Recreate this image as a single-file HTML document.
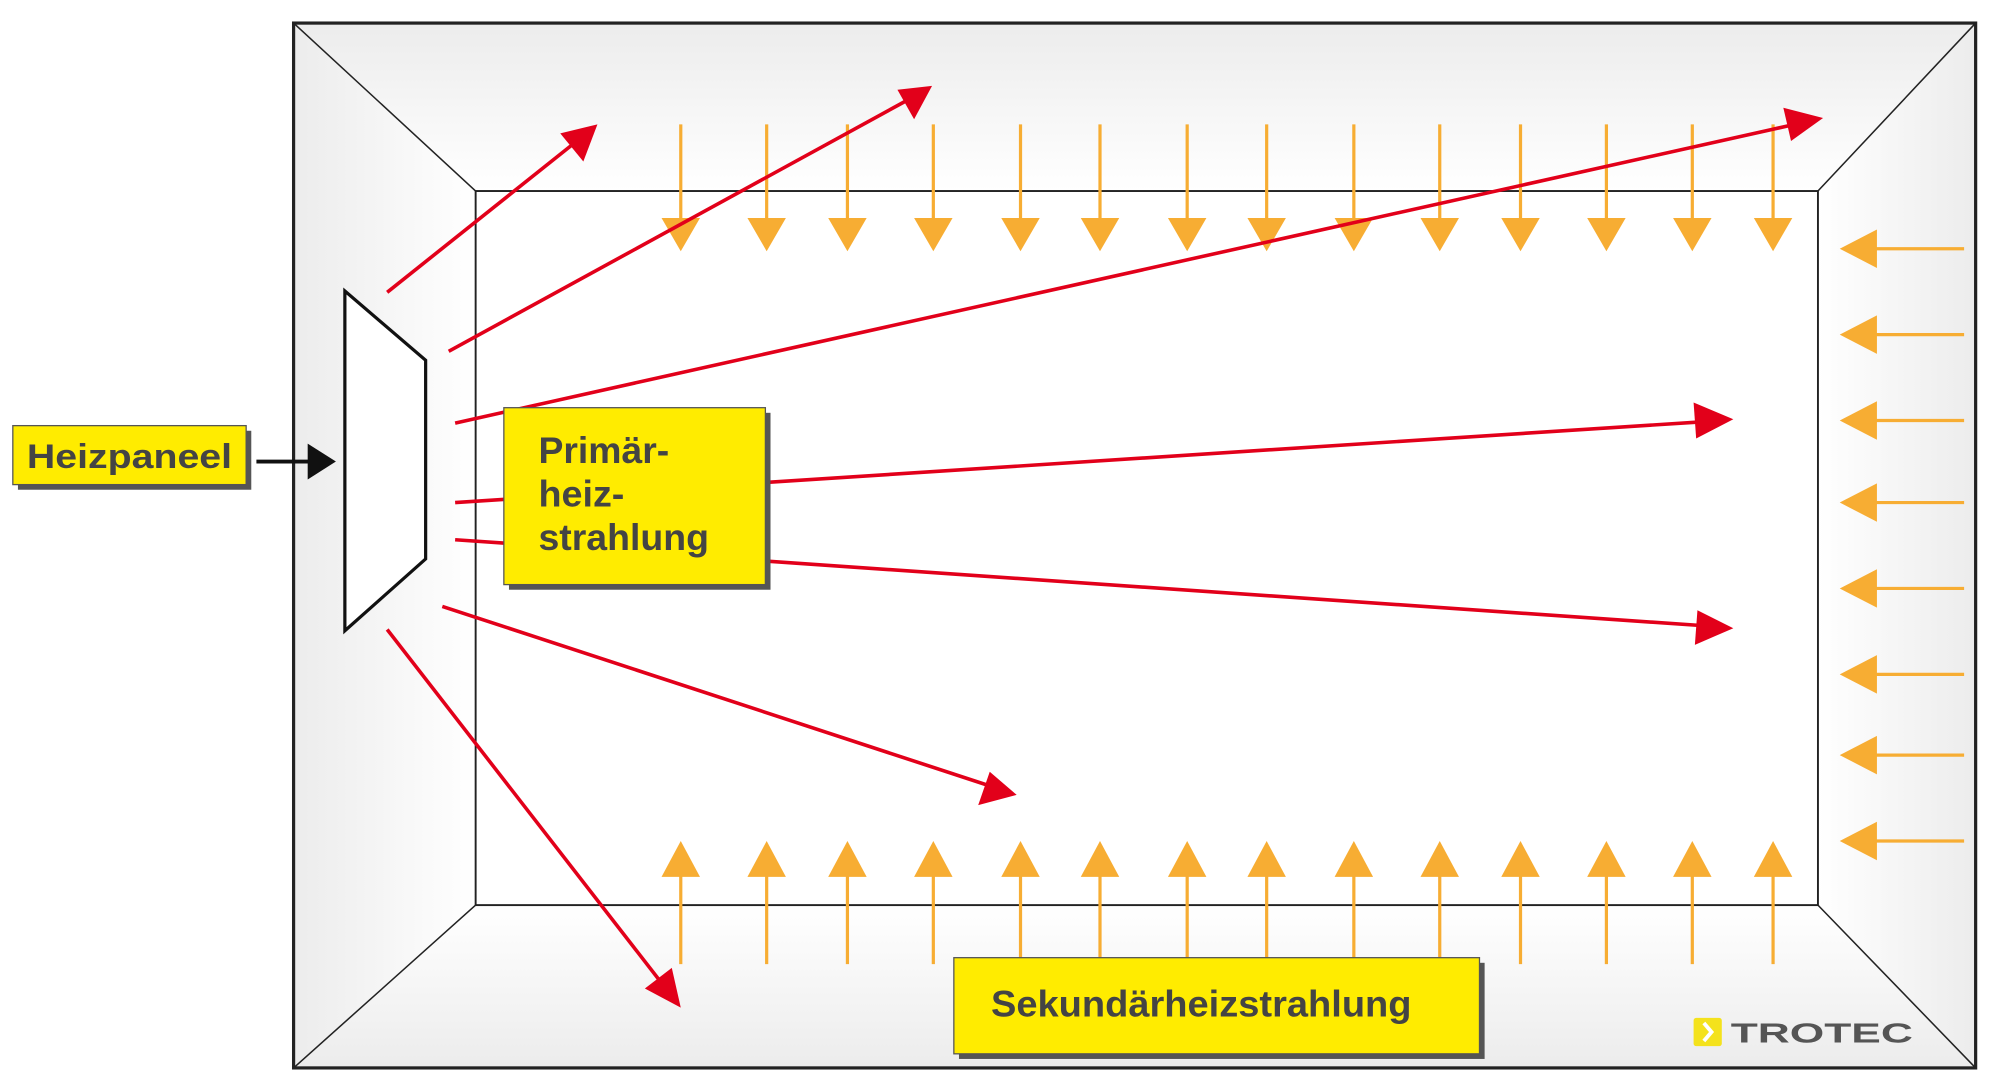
<!DOCTYPE html>
<html><head><meta charset="utf-8"><style>
html,body{margin:0;padding:0;background:#fff;}
svg{display:block;}
text{font-family:"Liberation Sans Narrow","Liberation Sans",sans-serif;font-weight:bold;fill:#444;}
</style></head><body>
<svg width="2000" height="1091" viewBox="0 0 1560 851" preserveAspectRatio="none" xmlns="http://www.w3.org/2000/svg">
<defs>
<linearGradient id="gt" x1="0" y1="0" x2="0" y2="1"><stop offset="0" stop-color="#ececec"/><stop offset="1" stop-color="#fff"/></linearGradient>
<linearGradient id="gb" x1="0" y1="1" x2="0" y2="0"><stop offset="0" stop-color="#ececec"/><stop offset="1" stop-color="#fff"/></linearGradient>
<linearGradient id="gl" x1="0" y1="0" x2="1" y2="0"><stop offset="0" stop-color="#ececec"/><stop offset="1" stop-color="#fff"/></linearGradient>
<linearGradient id="gr" x1="1" y1="0" x2="0" y2="0"><stop offset="0" stop-color="#ececec"/><stop offset="1" stop-color="#fff"/></linearGradient>
</defs>
<polygon points="229,18 1541,18 1418,149 371,149" fill="url(#gt)"/>
<polygon points="229,833 1541,833 1418,706 371,706" fill="url(#gb)"/>
<polygon points="229,18 371,149 371,706 229,833" fill="url(#gl)"/>
<polygon points="1541,18 1418,149 1418,706 1541,833" fill="url(#gr)"/>
<rect x="371" y="149" width="1047" height="557" fill="#fff" stroke="#222" stroke-width="1.5"/>
<rect x="229" y="18" width="1312" height="815" fill="none" stroke="#222" stroke-width="2.5"/>
<g stroke="#222" stroke-width="1.2">
<line x1="229" y1="18" x2="371" y2="149"/><line x1="1541" y1="18" x2="1418" y2="149"/>
<line x1="229" y1="833" x2="371" y2="706"/><line x1="1541" y1="833" x2="1418" y2="706"/>
</g>
<g stroke="#f7ad33" stroke-width="2.5" fill="#f7ad33">
<g id="td">
<line x1="531" y1="97" x2="531" y2="172"/><polygon points="516,170 546,170 531,196" stroke="none"/>
</g>
<use href="#td" x="67"/><use href="#td" x="130"/><use href="#td" x="197"/><use href="#td" x="265"/><use href="#td" x="327"/><use href="#td" x="395"/><use href="#td" x="457"/><use href="#td" x="525"/><use href="#td" x="592"/><use href="#td" x="655"/><use href="#td" x="722"/><use href="#td" x="789"/><use href="#td" x="852"/>
<g id="bu">
<line x1="531" y1="752" x2="531" y2="682"/><polygon points="516,684 546,684 531,656" stroke="none"/>
</g>
<use href="#bu" x="67"/><use href="#bu" x="130"/><use href="#bu" x="197"/><use href="#bu" x="265"/><use href="#bu" x="327"/><use href="#bu" x="395"/><use href="#bu" x="457"/><use href="#bu" x="525"/><use href="#bu" x="592"/><use href="#bu" x="655"/><use href="#bu" x="722"/><use href="#bu" x="789"/><use href="#bu" x="852"/>
<g id="rl">
<line x1="1532" y1="194" x2="1460" y2="194"/><polygon points="1464,179 1464,209 1435,194" stroke="none"/>
</g>
<use href="#rl" y="67"/><use href="#rl" y="134"/><use href="#rl" y="198"/><use href="#rl" y="265"/><use href="#rl" y="332"/><use href="#rl" y="395"/><use href="#rl" y="462"/>
</g>
<g stroke="#e2001a" stroke-width="2.8" fill="#e2001a">
<line x1="302" y1="228" x2="450" y2="110"/><polygon points="466,97 455,126 437,104" stroke="none"/>
<line x1="350" y1="274" x2="708" y2="78"/><polygon points="727,67 713,93 700,70" stroke="none"/>
<line x1="355" y1="330" x2="1400" y2="97"/><polygon points="1422,92 1397,110 1391,84" stroke="none"/>
<line x1="355" y1="392" x2="1328" y2="329"/><polygon points="1352,327 1323,342 1321,314" stroke="none"/>
<line x1="355" y1="421" x2="1328" y2="488"/><polygon points="1352,490 1322,503 1324,476" stroke="none"/>
<line x1="345" y1="473" x2="772" y2="613"/><polygon points="793,620 763,628 772,602" stroke="none"/>
<line x1="302" y1="491" x2="517" y2="768"/><polygon points="531,786 503,771 524,755" stroke="none"/>
</g>
<polygon points="269,227 332,281 332,436 269,492" fill="#fff" stroke="#111" stroke-width="2.5"/>
<rect x="14" y="336" width="182" height="46" fill="#555"/>
<rect x="10" y="332" width="182" height="46" fill="#ffec00" stroke="#555" stroke-width="1"/>
<text x="21" y="365" font-size="27" textLength="160" lengthAdjust="spacingAndGlyphs">Heizpaneel</text>
<line x1="200" y1="360" x2="245" y2="360" stroke="#111" stroke-width="3"/>
<polygon points="240,346 240,374 262,360" fill="#111"/>
<rect x="397" y="322" width="204" height="138" fill="#555"/>
<rect x="393" y="318" width="204" height="138" fill="#ffec00" stroke="#555" stroke-width="1"/>
<text x="420" y="361" font-size="29" textLength="102" lengthAdjust="spacingAndGlyphs">Primär-</text>
<text x="420" y="395" font-size="29" textLength="67" lengthAdjust="spacingAndGlyphs">heiz-</text>
<text x="420" y="429" font-size="29" textLength="133" lengthAdjust="spacingAndGlyphs">strahlung</text>
<rect x="748" y="751" width="410" height="75" fill="#555"/>
<rect x="744" y="747" width="410" height="75" fill="#ffec00" stroke="#555" stroke-width="1"/>
<text x="773" y="793" font-size="29" textLength="328" lengthAdjust="spacingAndGlyphs">Sekundärheizstrahlung</text>
<rect x="1321" y="794" width="22" height="22" rx="2" fill="#f4e21c"/>
<polyline points="1329,798 1335,805 1329,812" fill="none" stroke="#fff" stroke-width="3"/>
<text x="1350" y="813" font-size="22" textLength="142" lengthAdjust="spacingAndGlyphs" style="fill:#555">TROTEC</text>
</svg>
</body></html>
